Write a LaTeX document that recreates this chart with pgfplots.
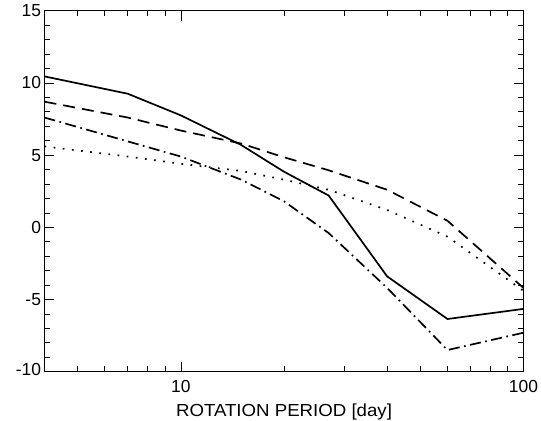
\documentclass[border=0pt]{standalone}
\usepackage{pgfplots}
\pgfplotsset{compat=1.18}
\usepackage{fontspec}
\setmainfont{Liberation Sans}
\begin{document}
\begin{tikzpicture}
\useasboundingbox (-44.5bp,-49.3bp) rectangle (496.5bp,371.7bp);
\begin{axis}[
  scale only axis,
  width=479bp, height=361bp,
  xmode=log,
  xmin=4, xmax=100,
  ymin=-10, ymax=15,
  xtick={10,100}, xticklabels={10,100},
  minor xtick={5,6,7,8,9,20,30,40,50,60,70,80,90},
  ytick={-10,-5,0,5,10,15},
  yticklabels={\raisebox{5bp}{-10},-5,0,5,10,\raisebox{-4.5bp}{15}},
  minor y tick num=4,
  tick align=inside,
  major tick length=10bp,
  minor tick length=5.5bp,
  tick style={black, line width=0.7pt},
  axis line style={line width=0.9pt},
  ticklabel style={font=\fontsize{17.5}{17.5}\selectfont},
  yticklabel style={xshift=0bp},
  xticklabel style={yshift=-5bp},
  xlabel={\scalebox{1.07}[1]{ROTATION PERIOD [day]}},
  xlabel style={font=\fontsize{17.5}{17.5}\selectfont, yshift=-4bp},
  every axis plot/.append style={black, line width=1.7bp},
]
\addplot[solid] coordinates {(4,10.45) (7,9.25) (10,7.75) (15,5.7) (20,3.85) (27,2.2) (40,-3.4) (60,-6.35) (100,-5.65)};
\addplot[dash pattern=on 12bp off 7bp] coordinates {(4,8.7) (7,7.6) (10,6.7) (15,5.8) (20,4.85) (27,3.95) (40,2.6) (60,0.45) (100,-4.2)};
\addplot[dash pattern=on 11bp off 4.5bp on 1.7bp off 4.5bp] coordinates {(4,7.6) (7,5.95) (10,4.9) (15,3.3) (20,1.8) (27,-0.4) (40,-4.2) (60,-8.5) (100,-7.3)};
\addplot[dash pattern=on 1.7bp off 7.5bp] coordinates {(4,5.6) (7,4.9) (10,4.4) (15,3.9) (20,3.3) (27,2.6) (40,1.2) (60,-0.65) (100,-4.4)};
\end{axis}
\end{tikzpicture}
\end{document}
